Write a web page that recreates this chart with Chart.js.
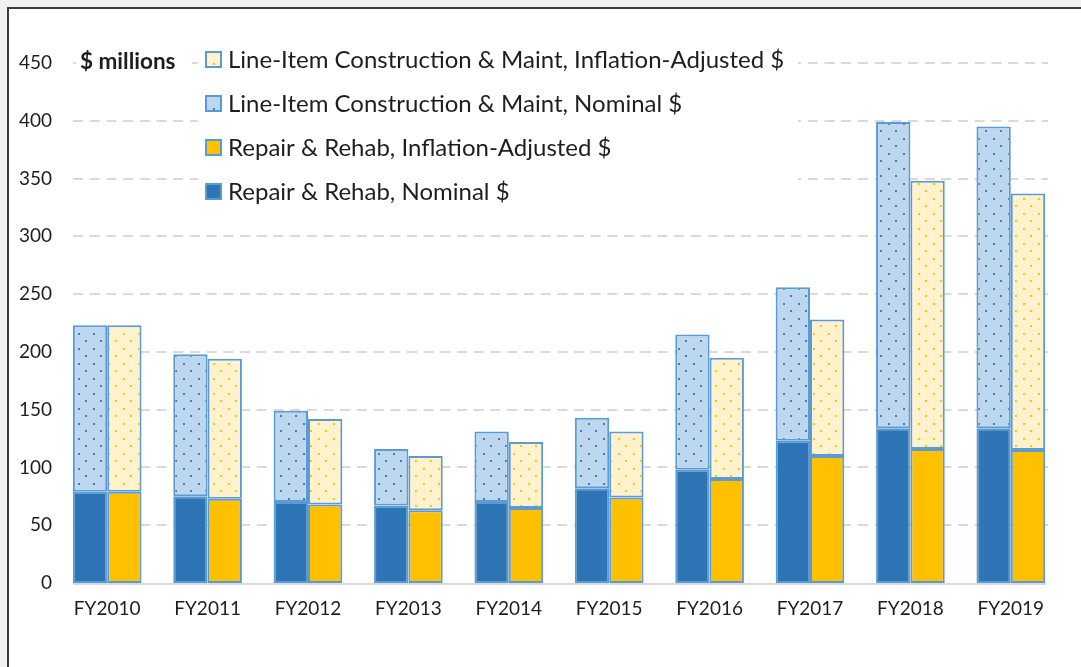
<!DOCTYPE html>
<html><head><meta charset="utf-8">
<script src="https://cdn.jsdelivr.net/npm/chart.js@4.4.1/dist/chart.umd.min.js"></script>
<style>
html,body{margin:0;padding:0;background:#f0f0f0;width:1081px;height:667px;overflow:hidden}
#frame{position:absolute;left:7px;top:7px;width:1074px;height:660px;background:#fff;border-top:2px solid #3a3a3a;border-left:2px solid #3a3a3a;box-sizing:border-box}
#wrap{position:absolute;left:0;top:0;width:1081px;height:667px}
</style></head><body>
<div id="frame"></div>
<div id="wrap"><canvas id="c" width="1081" height="667"></canvas></div>
<script>
const categories = ['FY2010','FY2011','FY2012','FY2013','FY2014','FY2015','FY2016','FY2017','FY2018','FY2019'];
const repairNominal  = [79, 75, 70, 67, 70, 82, 98, 123, 134, 134];
const repairAdjusted = [79, 73, 68, 63, 65, 74, 90, 110, 116, 115];
const totalNominal   = [223, 198, 149, 116, 131, 143, 215, 256, 399, 395];
const totalAdjusted  = [223, 194, 142, 110, 122, 131, 195, 228, 348, 337];
const lineItemNominal  = totalNominal.map((t, i) => t - repairNominal[i]);
const lineItemAdjusted = totalAdjusted.map((t, i) => t - repairAdjusted[i]);
const yTicks = [0, 50, 100, 150, 200, 250, 300, 350, 400, 450];
const unitLabel = '$ millions';

const FONT = 'Lato';
const TXT = '#1e1e1e';

function dotPattern(bg, dot) {
  const c = document.createElement('canvas');
  c.width = 15; c.height = 15;
  const g = c.getContext('2d');
  g.fillStyle = bg; g.fillRect(0, 0, 15, 15);
  g.fillStyle = dot;
  g.fillRect(3, 3, 2, 2);
  g.fillRect(10, 10, 2, 2);
  return g.createPattern(c, 'repeat');
}
const ctx = document.getElementById('c').getContext('2d');
const patBlue = dotPattern('#bdd7ee', 'rgba(46,117,182,0.9)');
const patYellow = dotPattern('#fff2cc', 'rgba(255,192,0,0.95)');

const gridPlugin = {
  id: 'customGrid',
  beforeDatasetsDraw(chart) {
    const y = chart.scales.y, c = chart.ctx;
    c.save();
    c.strokeStyle = '#d9d9d9'; c.lineWidth = 2; c.setLineDash([10, 6.7]);
    y.ticks.forEach(t => {
      if (t.value === 0) return;
      const py = Math.round(y.getPixelForValue(t.value));
      c.beginPath(); c.moveTo(73, py); c.lineTo(1048, py); c.stroke();
    });
    c.restore();
  },
  afterDatasetsDraw(chart) {
    const y = chart.scales.y, c = chart.ctx;
    const py = Math.round(y.getPixelForValue(0)) + 1;
    c.save();
    c.strokeStyle = '#d9d9d9'; c.lineWidth = 2;
    c.beginPath(); c.moveTo(73, py); c.lineTo(1046, py); c.stroke();
    c.restore();
  },
  afterDraw(chart) {
    const c = chart.ctx;
    c.save();
    // unit label
    c.fillStyle = '#fff';
    c.fillRect(76, 46, 116, 32);
    c.font = 'bold 22.5px ' + FONT;
    c.fillStyle = TXT; c.textBaseline = 'middle'; c.textAlign = 'left';
    c.fillText(unitLabel, 80, 62);
    // legend
    c.fillStyle = '#fff';
    c.fillRect(198, 42, 600, 166);
    const order = [3, 1, 2, 0];
    c.font = '24px ' + FONT;
    order.forEach((di, r) => {
      const ds = chart.data.datasets[di];
      const cy = 59 + r * 44;
      c.fillStyle = ds.backgroundColor;
      c.fillRect(206, cy - 7, 15, 15);
      c.strokeStyle = '#5b9bd5'; c.lineWidth = 2;
      c.strokeRect(206, cy - 7, 15, 15);
      c.fillStyle = TXT;
      c.fillText(ds.label, 228, cy + 1);
    });
    c.restore();
  }
};

new Chart(ctx, {
  type: 'bar',
  data: {
    labels: categories,
    datasets: [
      { label: 'Repair & Rehab, Nominal $', data: repairNominal, stack: 'nom', backgroundColor: '#2e75b6' },
      { label: 'Line-Item Construction & Maint, Nominal $', data: lineItemNominal, stack: 'nom', backgroundColor: patBlue },
      { label: 'Repair & Rehab, Inflation-Adjusted $', data: repairAdjusted, stack: 'adj', backgroundColor: '#ffc000' },
      { label: 'Line-Item Construction & Maint, Inflation-Adjusted $', data: lineItemAdjusted, stack: 'adj', backgroundColor: patYellow }
    ].map(d => Object.assign(d, { borderColor: '#5b9bd5', borderWidth: 2, borderSkipped: false, barPercentage: 1.0, categoryPercentage: 0.684 }))
  },
  options: {
    responsive: false,
    animation: false,
    devicePixelRatio: 1,
    layout: { padding: { left: 0, right: 20, top: 63, bottom: 0 } },
    plugins: { legend: { display: false }, tooltip: { enabled: false } },
    scales: {
      x: {
        stacked: true, offset: true,
        grid: { display: false, drawTicks: false }, border: { display: false },
        ticks: { color: TXT, font: { family: FONT, size: 19 }, padding: 14, maxRotation: 0 },
        afterFit: s => { s.height = 84; }
      },
      y: {
        stacked: true, min: 0, max: 450,
        afterBuildTicks: s => { s.ticks = yTicks.map(v => ({ value: v })); },
        grid: { display: false, drawTicks: false }, border: { display: false },
        ticks: { color: TXT, font: { family: FONT, size: 19 }, padding: 5 },
        afterFit: s => { s.width = 57; }
      }
    }
  },
  plugins: [gridPlugin]
});
</script>
</body></html>
